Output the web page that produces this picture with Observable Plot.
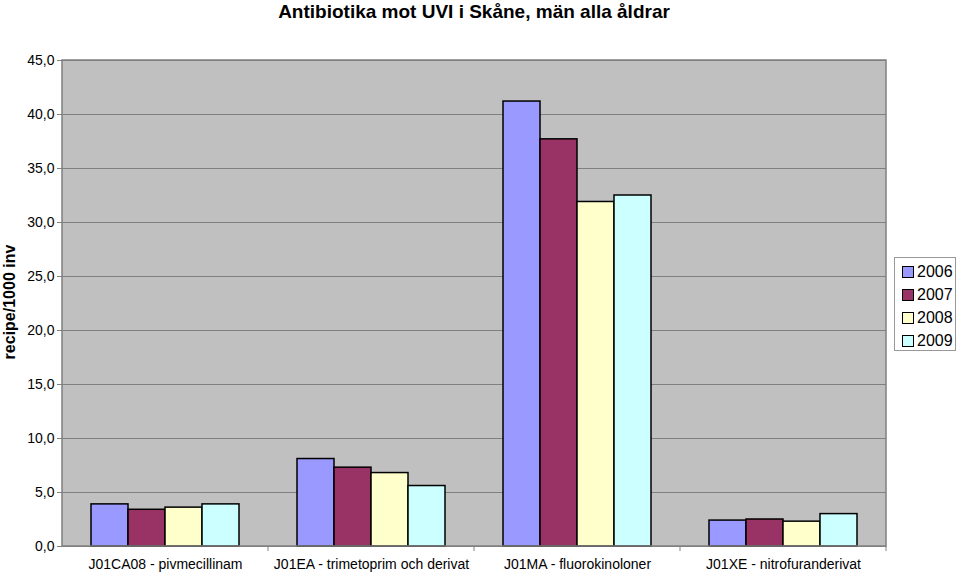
<!DOCTYPE html>
<html>
<head>
<meta charset="utf-8">
<script src="https://cdn.jsdelivr.net/npm/d3@7"></script>
<script src="https://cdn.jsdelivr.net/npm/@observablehq/plot@0.6"></script>
<style>
  body { margin: 0; background: #fff; font-family: "Liberation Sans", Arial, sans-serif; }
  #wrap { position: relative; width: 959px; height: 575px; }
  #title { height: 30px; line-height: 23px; padding-left: 62px; padding-right: 73px; text-align: center; font-weight: bold; font-size: 19px; color: #000; }
  #ylabel { position: absolute; left: 10px; top: 302px; transform: translate(-50%, -50%) rotate(-90deg); font-weight: bold; font-size: 16px; white-space: nowrap; }
  #legend { position: absolute; left: 894px; top: 257px; width: 62px; height: 94px; border: 1px solid #999; background: #fff; box-sizing: border-box; padding-top: 2px; }
  .item { height: 23px; display: flex; align-items: center; font-size: 16px; padding-left: 7px; }
  .sw { width: 10px; height: 10px; border: 1px solid #000; margin-right: 3px; }
</style>
</head>
<body>
<div id="wrap">
  <div id="title">Antibiotika mot UVI i Skåne, män alla åldrar</div>
  <div id="chart"></div>
  <div id="ylabel">recipe/1000 inv</div>
  <div id="legend"></div>
</div>
<script>
const categories = ["J01CA08 - pivmecillinam", "J01EA - trimetoprim och derivat", "J01MA - fluorokinoloner", "J01XE - nitrofuranderivat"];
const years = ["2006", "2007", "2008", "2009"];
const v2006 = [3.9, 8.1, 41.2, 2.4];
const v2007 = [3.4, 7.3, 37.7, 2.5];
const v2008 = [3.6, 6.8, 31.9, 2.3];
const v2009 = [3.9, 5.6, 32.5, 3.0];
const colors = ["#9999FF", "#993366", "#FFFFCC", "#CCFFFF"];
const yTicks = [0, 5, 10, 15, 20, 25, 30, 35, 40, 45];

const series = [v2006, v2007, v2008, v2009];
const data = [];
categories.forEach((c, i) => years.forEach((y, j) => data.push({cat: c, year: y, value: series[j][i]})));

const W = 959, H = 545, mL = 62, mR = 73, mT = 30, mB = 29;

const chart = Plot.plot({
  width: W, height: H,
  marginLeft: mL, marginRight: mR, marginTop: mT, marginBottom: mB,
  style: { fontFamily: "Liberation Sans, Arial, sans-serif", fontSize: "14px", color: "#000", background: "transparent" },
  fx: { domain: categories, padding: 0, label: null },
  x: { domain: years, paddingInner: 0, paddingOuter: 0.73, axis: null },
  y: { domain: [0, 45], label: null },
  color: { domain: years, range: colors },
  marks: [
    Plot.gridY(yTicks, { stroke: "#808080", strokeOpacity: 1, strokeWidth: 1 }),
    Plot.axisY(yTicks, { tickFormat: d => d.toFixed(1).replace(".", ","), tickSize: 5, tickPadding: 3, stroke: "#808080", label: null, fontSize: 14 }),
    Plot.axisFx({ anchor: "bottom", tickSize: 0, tickPadding: 13, label: null, fontSize: 14 }),
    Plot.barY(data, { fx: "cat", x: "year", y: "value", fill: "year", stroke: "#000", strokeWidth: 1.5 })
  ]
});
document.getElementById("chart").appendChild(chart);

// plot-area background, border and category separator ticks
const svg = d3.select(chart);
const fxs = chart.scale("fx");
const ys = chart.scale("y");
const band = d3.scaleBand().domain(fxs.domain).range(fxs.range).padding(0);
const yPx = d3.scaleLinear().domain(ys.domain).range(ys.range);
svg.insert("rect", ":first-child")
  .attr("x", fxs.range[0]).attr("y", yPx(45))
  .attr("width", fxs.range[1] - fxs.range[0]).attr("height", yPx(0) - yPx(45))
  .attr("fill", "#C0C0C0");
const g = svg.append("g");
g.append("rect")
  .attr("x", fxs.range[0]).attr("y", yPx(45))
  .attr("width", fxs.range[1] - fxs.range[0]).attr("height", yPx(0) - yPx(45))
  .attr("fill", "none").attr("stroke", "#808080").attr("stroke-width", 1.5);
categories.forEach(c => {
  const xx = band(c) + band.bandwidth();
  g.append("line").attr("x1", xx).attr("x2", xx).attr("y1", yPx(0)).attr("y2", yPx(0) + 5).attr("stroke", "#808080");
});

// legend
const leg = document.getElementById("legend");
years.forEach((y, i) => {
  const it = document.createElement("div");
  it.className = "item";
  const sw = document.createElement("div");
  sw.className = "sw";
  sw.style.background = colors[i];
  it.appendChild(sw);
  it.appendChild(document.createTextNode(y));
  leg.appendChild(it);
});
</script>
</body>
</html>
